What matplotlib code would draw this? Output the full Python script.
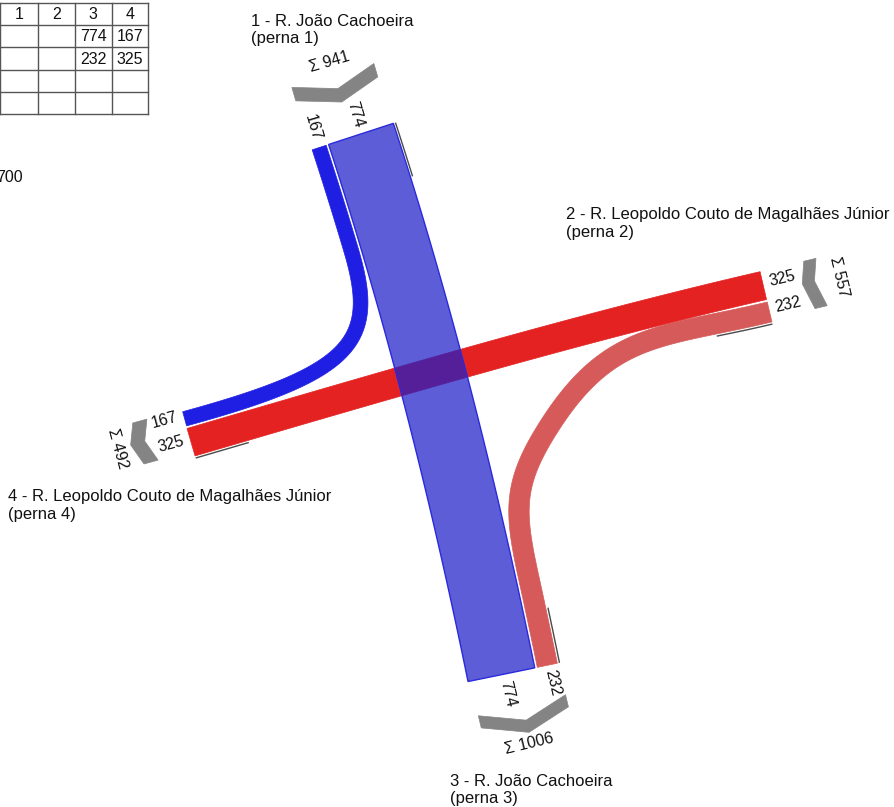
import numpy as np
import matplotlib
matplotlib.use("Agg")
import matplotlib.pyplot as plt
from matplotlib.patches import Polygon
from matplotlib.colors import to_rgba

plt.rcParams['font.family'] = ['Liberation Sans', 'DejaVu Sans']

# ---------------- data ----------------
leg_ids = [1, 2, 3, 4]
leg_names = ["R. João Cachoeira", "R. Leopoldo Couto de Magalhães Júnior",
             "R. João Cachoeira", "R. Leopoldo Couto de Magalhães Júnior"]
flow_origin = [1, 1, 2, 2]
flow_dest = [3, 4, 3, 4]
flow_volume = [774, 167, 232, 325]
table_header = ["1", "2", "3", "4"]
scale_text = "700"

# ---------------- layout (pixel space, y down) ----------------
W_PX, H_PX = 895, 807
PX_PER_VEH = 0.088
GAP = 2.6
FS_NAME = 12
FS_NUM = 11.5

leg_anchor = {1: (311.7, 148.3), 2: (760.0, 271.7), 3: (468.3, 682.7), 4: (182.7, 411.7)}
leg_edge = {1: (0.96, -0.28), 2: (0.232, 0.973), 3: (0.972, -0.235), 4: (0.264, 0.965)}
leg_inward = {1: (0.28, 0.96), 2: (-0.973, 0.232), 3: (-0.235, -0.972), 4: (0.965, -0.264)}
leg_stack = {1: [(1, 4), (1, 3)], 2: [(2, 4), (2, 3)], 3: [(1, 3), (2, 3)], 4: [(1, 4), (2, 4)]}
leg_name_pos = {1: (251, 25.5), 2: (566, 218.5), 3: (450, 785.5), 4: (8, 501.5)}
# chevron: u0, u1 offset from stack width, apex fraction, inner v at ends, inner v at apex, thickness
leg_chevron = {1: (-2, -2, 0.49, 50, 36, 14), 2: (0, -3, 0.42, 45, 38.3, 12.5),
               3: (2, 0.5, 0.52, 34.5, 50, 12.5), 4: (-2.3, -5.7, 0.40, 36.5, 44.4, 14.6)}
leg_sigma_uv = {1: (40.8, 78), 2: (23.5, 75.6), 3: (44.6, 74), 4: (18.9, 72.2)}
leg_label_ushift = {1: 0, 2: -3, 3: 1.5, 4: -3.7}

# path shapes
flow_path = {
    (1, 3): dict(h0=(0.31, 0.95), h1=(0.2, 0.98), f=0.33),
    (2, 4): dict(h0=(-0.975, 0.225), h1=(-0.96, 0.28), f=0.33),
    # right turn 1->4: alongside 1->3 at leg 1, then turns west
    (1, 4): dict(follow=(1, 3), at=1, split_y=250, h1=(-0.965, 0.264), k=(0.8, 0.85)),
    # left turn 2->3: leaves leg 2, bends through a via point, then alongside 1->3 at leg 3
    (2, 3): dict(follow=(1, 3), at=3, split_y=575, h0=(-0.973, 0.232),
                 via=((550, 425), (-0.54, 0.84)), f=0.45),
}
flow_style = {
    (1, 3): dict(fc=to_rgba('#1e1ec8', 0.72), ec='#2a2adc', lw=1.0, z=4),
    (1, 4): dict(fc='#1f1fe4', ec='#1f1fe4', lw=0.5, z=3),
    (2, 3): dict(fc='#d65a5a', ec='#d65a5a', lw=0.5, z=2),
    (2, 4): dict(fc='#e42222', ec='#e42222', lw=0.5, z=2),
}


def unit(v):
    v = np.asarray(v, float)
    return v / np.hypot(*v)


def cubic(p0, p1, p2, p3, n=150):
    t = np.linspace(0, 1, n)[:, None]
    return (1 - t) ** 3 * p0 + 3 * (1 - t) ** 2 * t * p1 + 3 * (1 - t) * t ** 2 * p2 + t ** 3 * p3


def hermite(a, da, b, db, f, n=150):
    a = np.asarray(a, float)
    b = np.asarray(b, float)
    L = np.hypot(*(b - a))
    return cubic(a, a + f * L * unit(da), b - f * L * unit(db), b, n)


def normals(c):
    d = np.gradient(c, axis=0)
    d /= np.hypot(d[:, 0], d[:, 1])[:, None]
    return np.column_stack([-d[:, 1], d[:, 0]])


def band_polygon(c, w):
    nrm = normals(c)
    return np.vstack([c + nrm * w / 2, (c - nrm * w / 2)[::-1]])


def readable(vec):
    ang = np.degrees(np.arctan2(-vec[1], vec[0]))
    if ang > 90:
        ang -= 180
    if ang <= -90:
        ang += 180
    return ang


def parallel(fl, ref, leg):
    """Centre line running alongside band `ref`, on fl's side of it at `leg`."""
    rc = centres[ref]
    nrm = normals(rc)
    idx = 0 if ref[0] == leg else -1
    e = unit(leg_edge[leg])
    side = 1 if leg_stack[leg].index(fl) > leg_stack[leg].index(ref) else -1
    sgn = side * np.sign(np.dot(nrm[idx], e))
    dist = vol[ref] * PX_PER_VEH / 2 + GAP + vol[fl] * PX_PER_VEH / 2
    return rc + sgn * nrm * dist


vol = {(o, d): v for o, d, v in zip(flow_origin, flow_dest, flow_volume)}

fig = plt.figure(figsize=(W_PX / 100, H_PX / 100), dpi=100)
ax = fig.add_axes([0, 0, 1, 1])
ax.set_xlim(0, W_PX)
ax.set_ylim(H_PX, 0)
ax.axis('off')

# stack band ends at each leg
end_center = {}
leg_width = {}
for leg in leg_ids:
    A = np.array(leg_anchor[leg])
    e = unit(leg_edge[leg])
    off = 0.0
    for fl in leg_stack[leg]:
        w = vol[fl] * PX_PER_VEH
        end_center[(fl, leg)] = A + (off + w / 2) * e
        off += w + GAP
    leg_width[leg] = off - GAP

# band centre lines
centres = {}
order = [fl for fl in vol if 'follow' not in flow_path[fl]] + \
        [fl for fl in vol if 'follow' in flow_path[fl]]
for fl in order:
    o, d = fl
    spec = flow_path[fl]
    if 'follow' not in spec:
        c = hermite(end_center[(fl, o)], spec['h0'], end_center[(fl, d)], spec['h1'], spec['f'])
    elif spec['at'] == o:
        par = parallel(fl, spec['follow'], o)
        par = par[par[:, 1] <= spec['split_y']]
        S = par[-1]
        h = unit(par[-1] - par[-2])
        p3 = end_center[(fl, d)]
        h1 = unit(spec['h1'])
        ab = np.linalg.solve(np.column_stack([h, h1]), p3 - S)
        k1, k2 = spec['k']
        turn = cubic(S, S + k1 * ab[0] * h, p3 - k2 * ab[1] * h1, p3)
        c = np.vstack([par, turn[1:]])
    else:
        par = parallel(fl, spec['follow'], d)
        par = par[par[:, 1] >= spec['split_y']]
        S = par[0]
        h = unit(par[1] - par[0])
        m, dm = spec['via']
        c1 = hermite(end_center[(fl, o)], spec['h0'], m, dm, spec['f'])
        c2 = hermite(m, dm, S, h, spec['f'])
        c = np.vstack([c1, c2[1:], par[1:]])
    centres[fl] = c

for fl, v in vol.items():
    st = flow_style[fl]
    ax.add_patch(Polygon(band_polygon(centres[fl], v * PX_PER_VEH), closed=True,
                         facecolor=st['fc'], edgecolor=st['ec'], linewidth=st['lw'],
                         zorder=st['z'], joinstyle='miter'))

# per-leg decorations
for i, leg in enumerate(leg_ids):
    A = np.array(leg_anchor[leg])
    e = unit(leg_edge[leg])
    vout = -unit(leg_inward[leg])
    W = leg_width[leg]

    # thin reference line along the outer side of the last band
    fl = leg_stack[leg][-1]
    c = centres[fl] if fl[0] == leg else centres[fl][::-1]
    nrm = normals(c)
    sgn = np.sign(np.dot(nrm[0], e))
    side = c + sgn * nrm * (vol[fl] * PX_PER_VEH / 2 + 2.2)
    s = np.concatenate([[0], np.cumsum(np.hypot(*np.diff(side, axis=0).T))])
    seg = side[s <= 58]
    ax.plot(seg[:, 0], seg[:, 1], color='#4a4a4a', lw=1.0, zorder=5, solid_capstyle='butt')

    # chevron
    u0, u1o, af, ve, va, t = leg_chevron[leg]
    u1 = W + u1o
    ua = W * af
    pts_uv = [(u0, ve), (ua, va), (u1, ve), (u1, ve + t), (ua, va + t), (u0, ve + t)]
    poly = [A + u * e + vv * vout for u, vv in pts_uv]
    ax.add_patch(Polygon(poly, closed=True, facecolor='#848484', edgecolor='#848484',
                         lw=0.5, zorder=5))

    # total label
    total = sum(v for f, v in vol.items() if leg in f)
    su, sv = leg_sigma_uv[leg]
    sp = A + su * e + sv * vout
    ax.text(sp[0], sp[1], f"Σ {total}", fontsize=FS_NUM, rotation=readable(e),
            rotation_mode='anchor', ha='center', va='center', color='#111111', zorder=6)

    # volume labels at band ends
    for fl in leg_stack[leg]:
        p = end_center[(fl, leg)] + 20 * vout + leg_label_ushift[leg] * e
        ax.text(p[0], p[1], str(vol[fl]), fontsize=FS_NUM, rotation=readable(vout),
                rotation_mode='anchor', ha='center', va='center', color='#111111', zorder=6)

    # leg names
    x, y = leg_name_pos[leg]
    ax.text(x, y, f"{leg} - {leg_names[i]}", fontsize=FS_NAME, ha='left', va='baseline',
            color='#111111')
    ax.text(x, y + 18, f"(perna {leg})", fontsize=FS_NAME, ha='left', va='baseline',
            color='#111111')

# O/D table (partially cropped at the left edge)
col_x = [0.5, 37.7, 75.0, 111.7, 148.3]
row_y = [2.7, 25.0, 47.3, 70.0, 91.7, 114.0]
for xx in col_x:
    ax.plot([xx, xx], [row_y[0], row_y[-1]], color='#555555', lw=1.0, zorder=3)
for yy in row_y:
    ax.plot([0, col_x[-1]], [yy, yy], color='#555555', lw=1.0, zorder=3)
for j, h in enumerate(table_header):
    ax.text((col_x[j] + col_x[j + 1]) / 2, (row_y[0] + row_y[1]) / 2 + 0.5, h,
            fontsize=FS_NUM, ha='center', va='center', color='#111111')
for (o, d), v in vol.items():
    ax.text((col_x[d - 1] + col_x[d]) / 2, (row_y[o] + row_y[o + 1]) / 2 + 0.5, str(v),
            fontsize=FS_NUM, ha='center', va='center', color='#111111')

ax.text(23, 182, scale_text, fontsize=FS_NUM, ha='right', va='baseline', color='#111111')

fig.savefig("out.png", dpi=100, facecolor='white')
